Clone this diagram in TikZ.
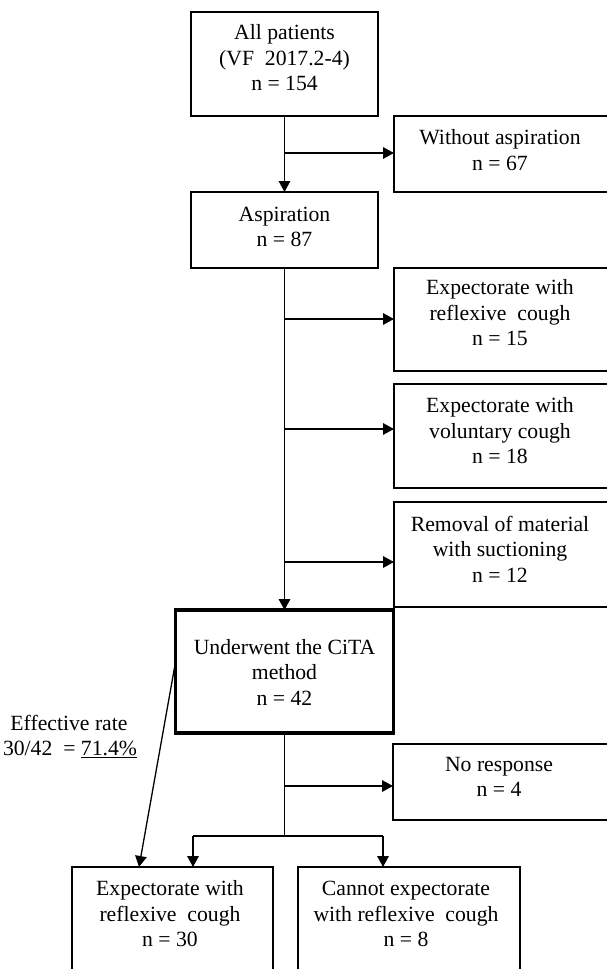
\documentclass[tikz,border=0pt]{standalone}
\usepackage{fontspec}
\setmainfont{Liberation Serif}
\usetikzlibrary{arrows.meta}
\begin{document}
\begin{tikzpicture}[x=1pt,y=-1pt,
 box/.style={draw, line width=1.6pt, inner sep=0pt, outer sep=0pt},
 thickbox/.style={draw, line width=3.8pt, inner sep=0pt, outer sep=0pt},
 txt/.style={align=center, inner sep=0pt, font=\fontsize{21.7}{25.5}\selectfont},
 conn/.style={line width=1.6pt},
 arr/.style={conn, -{Triangle[length=11pt,width=11.5pt]}}]
\useasboundingbox (0,0) rectangle (607,969);
\fill[white] (0,0) rectangle (607,969);
% boxes
\node[box, minimum width=187pt, minimum height=104pt] (b1) at (284.5,64) {};
\node[box, minimum width=228pt, minimum height=76pt] (bw) at (508,154) {};
\node[box, minimum width=187pt, minimum height=76pt] (b2) at (284.5,230) {};
\node[box, minimum width=228pt, minimum height=103pt] (b3) at (508,319.5) {};
\node[box, minimum width=228pt, minimum height=104pt] (b4) at (508,436) {};
\node[box, minimum width=228pt, minimum height=105pt] (b5) at (508,554.5) {};
\node[thickbox, minimum width=218pt, minimum height=123pt] (cita) at (284.5,671.5) {};
\node[box, minimum width=229pt, minimum height=76pt] (nr) at (507.5,782) {};
\node[box, minimum width=201pt, minimum height=128pt] (bl) at (172.5,931) {};
\node[box, minimum width=222pt, minimum height=128pt] (br) at (409,931) {};
% texts
\node[txt] (t1) at (284.5,58) {All patients\\(VF\ \ 2017.2-4)\\n = 154};
\node[txt] (tw) at (500,150) {Without aspiration\\n = 67};
\node[txt] (t2) at (284.5,227) {Aspiration\\n = 87};
\node[txt] (t3) at (500,313) {Expectorate with\\reflexive\ \ cough\\n = 15};
\node[txt] (t4) at (500,431) {Expectorate with\\voluntary cough\\n = 18};
\node[txt] (t5) at (500,549) {Removal of material\\with suctioning\\n = 12};
\node[txt] (tc) at (284.5,672) {Underwent the CiTA\\method\\n = 42};
\node[txt] (tn) at (499,777) {No response\\n = 4};
\node[txt] (tl) at (170,914) {Expectorate with\\reflexive\ \ cough\\n = 30};
\node[txt] (tr) at (406,914) {Cannot expectorate\\with reflexive\ \ cough\\n = 8};
\node[txt] (te1) at (69,723) {Effective rate};
\node[txt] (te2) at (70,749) {30/42\ \ = \underline{71.4\%}};
% junction coordinates
\coordinate (j1) at (284.5,153);
\coordinate (j3) at (284.5,319);
\coordinate (j4) at (284.5,429);
\coordinate (j5) at (284.5,562);
\coordinate (j6) at (284.5,786);
\coordinate (s) at (284.5,836);
\coordinate (sl) at (193,836);
\coordinate (sr) at (383,836);
\coordinate (d0) at (175.5,662);
\coordinate (d1) at (139,867);
% connectors
\draw[arr] (b1.south) -- (b2.north);
\draw[arr] (j1) -- (j1 -| bw.west);
\draw[arr] (b2.south) -- (cita.north);
\draw[arr] (j3) -- (j3 -| b3.west);
\draw[arr] (j4) -- (j4 -| b4.west);
\draw[arr] (j5) -- (j5 -| b5.west);
\draw[conn] (cita.south) -- (s);
\draw[arr] (j6) -- (j6 -| nr.west);
\draw[conn] (sl) -- (sr);
\draw[arr] (sl) -- (sl |- bl.north);
\draw[arr] (sr) -- (sr |- br.north);
\draw[arr, line width=1.3pt] (d0) -- (d1 |- bl.north);
\end{tikzpicture}
\end{document}
